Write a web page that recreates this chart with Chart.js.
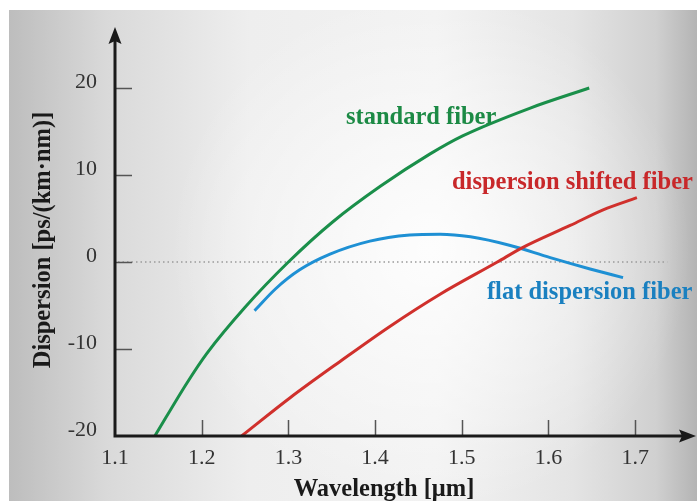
<!DOCTYPE html>
<html>
<head>
<meta charset="utf-8">
<script src="https://cdn.jsdelivr.net/npm/chart.js@4.4.1/dist/chart.umd.min.js"></script>
<style>
  body { margin: 0; background: #fff; }
  #wrap { width: 697px; height: 501px; position: relative; }
</style>
</head>
<body>
<div id="wrap"><canvas id="chart"></canvas></div>
<script>
// values
const xTicks = [1.1, 1.2, 1.3, 1.4, 1.5, 1.6, 1.7];
const yTicks = [-20, -10, 0, 10, 20];

const standardX = [1.146, 1.183, 1.206, 1.250, 1.300, 1.351, 1.406, 1.463, 1.501, 1.579, 1.647];
const standardY = [-20, -13.9, -10.5, -5.2, 0, 4.6, 8.7, 12.4, 14.5, 17.7, 20.0];

const shiftedX = [1.246, 1.302, 1.360, 1.417, 1.475, 1.541, 1.569, 1.625, 1.663, 1.702];
const shiftedY = [-20, -15.6, -11.4, -7.4, -3.7, 0, 1.6, 4.2, 6.0, 7.4];

const flatX = [1.261, 1.285, 1.313, 1.348, 1.394, 1.440, 1.475, 1.510, 1.556, 1.602, 1.648, 1.686];
const flatY = [-5.6, -3.1, -0.9, 0.9, 2.4, 3.1, 3.2, 2.9, 1.9, 0.5, -0.8, -1.8];

const GREEN = '#1a8f4a';
const RED = '#d0302c';
const BLUE = '#1e90d4';

const serif = '"Liberation Serif", "Times New Roman", serif';

// curve labels, anchored in data units (left edge, baseline)
const curveLabels = [
  { text: 'standard fiber', x: 1.3664, y: 15.9, color: '#1c8a45' },
  { text: 'dispersion shifted fiber', x: 1.4887, y: 8.4, color: '#c8282a' },
  { text: 'flat dispersion fiber', x: 1.529, y: -4.3, color: '#1a80c0' }
];

const toPoints = (xs, ys) => xs.map((x, i) => ({ x: x, y: ys[i] }));

const backdrop = {
  id: 'backdrop',
  beforeDraw(chart) {
    const ctx = chart.ctx;
    const w = chart.width, h = chart.height;
    ctx.save();
    ctx.fillStyle = '#fff';
    ctx.fillRect(0, 0, w, h);
    const lg = ctx.createLinearGradient(9, 0, w, 0);
    lg.addColorStop(0, '#bdbdbd');
    lg.addColorStop(0.14, '#d9d9d9');
    lg.addColorStop(0.35, '#eeeeee');
    lg.addColorStop(0.62, '#f2f2f2');
    lg.addColorStop(0.82, '#e4e4e4');
    lg.addColorStop(0.94, '#d0d0d0');
    lg.addColorStop(1, '#b4b4b4');
    ctx.fillStyle = lg;
    ctx.fillRect(9, 10, w - 9, h - 10);
    const rg = ctx.createRadialGradient(430, 250, 0, 430, 250, 260);
    rg.addColorStop(0, 'rgba(255,255,255,0.85)');
    rg.addColorStop(0.6, 'rgba(255,255,255,0.35)');
    rg.addColorStop(1, 'rgba(255,255,255,0)');
    ctx.fillStyle = rg;
    ctx.fillRect(9, 10, w - 9, h - 10);
    ctx.restore();
  },
  beforeDatasetsDraw(chart) {
    const ctx = chart.ctx;
    const xs = chart.scales.x, ys = chart.scales.y;
    const x0 = xs.getPixelForValue(xTicks[0]);
    const y0 = ys.getPixelForValue(yTicks[0]);
    ctx.save();
    // dotted zero line
    ctx.strokeStyle = '#9a9a9a';
    ctx.lineWidth = 1.5;
    ctx.setLineDash([1.5, 3]);
    ctx.beginPath();
    ctx.moveTo(x0 + 3, ys.getPixelForValue(0));
    ctx.lineTo(xs.getPixelForValue(1.737), ys.getPixelForValue(0));
    ctx.stroke();
    ctx.setLineDash([]);
    // tick marks pointing inwards
    ctx.strokeStyle = '#555';
    ctx.lineWidth = 1.5;
    ctx.beginPath();
    yTicks.slice(1).forEach(v => {
      const p = Math.round(ys.getPixelForValue(v)) + 0.5;
      ctx.moveTo(x0, p);
      ctx.lineTo(x0 + 17, p);
    });
    xTicks.slice(1).forEach(v => {
      const p = Math.round(xs.getPixelForValue(v)) + 0.5;
      ctx.moveTo(p, y0);
      ctx.lineTo(p, y0 - 16);
    });
    ctx.stroke();
    ctx.restore();
  },
  afterDraw(chart) {
    const ctx = chart.ctx;
    const xs = chart.scales.x, ys = chart.scales.y;
    const x0 = xs.getPixelForValue(xTicks[0]);
    const y0 = ys.getPixelForValue(yTicks[0]);
    const top = chart.chartArea.top, right = chart.chartArea.right;
    ctx.save();
    // axes with arrows
    ctx.strokeStyle = '#1a1a1a';
    ctx.fillStyle = '#1a1a1a';
    ctx.lineWidth = 3;
    ctx.beginPath();
    ctx.moveTo(x0, top + 12);
    ctx.lineTo(x0, y0);
    ctx.lineTo(right - 12, y0);
    ctx.stroke();
    ctx.beginPath();
    ctx.moveTo(x0, top - 1);
    ctx.lineTo(x0 - 6.5, top + 16);
    ctx.lineTo(x0, top + 13);
    ctx.lineTo(x0 + 6.5, top + 16);
    ctx.closePath();
    ctx.fill();
    ctx.beginPath();
    ctx.moveTo(right + 1, y0);
    ctx.lineTo(right - 16, y0 - 6.5);
    ctx.lineTo(right - 13, y0);
    ctx.lineTo(right - 16, y0 + 6.5);
    ctx.closePath();
    ctx.fill();

    // curve labels
    ctx.font = 'bold 24.5px ' + serif;
    ctx.textAlign = 'left';
    ctx.textBaseline = 'alphabetic';
    curveLabels.forEach(l => {
      ctx.fillStyle = l.color;
      ctx.fillText(l.text, xs.getPixelForValue(l.x), ys.getPixelForValue(l.y));
    });

    // axis titles
    ctx.fillStyle = '#1a1a1a';
    ctx.font = 'bold 24.5px ' + serif;
    ctx.textAlign = 'center';
    ctx.fillText('Wavelength [\u03bcm]', 384, 496);
    ctx.translate(50, 240);
    ctx.rotate(-Math.PI / 2);
    ctx.fillText('Dispersion [ps/(km\u00b7nm)]', 0, 0);
    ctx.restore();
  }
};

const lineDefaults = {
  fill: false,
  borderWidth: 3,
  pointRadius: 0,
  cubicInterpolationMode: 'monotone'
};

new Chart(document.getElementById('chart'), {
  type: 'line',
  data: {
    datasets: [
      Object.assign({ label: 'standard fiber', data: toPoints(standardX, standardY), borderColor: GREEN }, lineDefaults),
      Object.assign({ label: 'dispersion shifted fiber', data: toPoints(shiftedX, shiftedY), borderColor: RED }, lineDefaults),
      Object.assign({ label: 'flat dispersion fiber', data: toPoints(flatX, flatY), borderColor: BLUE }, lineDefaults)
    ]
  },
  options: {
    responsive: true,
    maintainAspectRatio: false,
    animation: false,
    layout: { padding: { left: 0, top: 28, right: 2, bottom: 0 } },
    plugins: {
      legend: { display: false },
      tooltip: { enabled: false }
    },
    scales: {
      x: {
        type: 'linear',
        min: 1.1,
        max: 1.769,
        grid: { display: false, drawTicks: false },
        border: { display: false },
        afterBuildTicks: s => { s.ticks = xTicks.map(v => ({ value: v })); },
        afterFit: s => {
          s.height = 65;
          s.paddingLeft = 0;
          s.paddingRight = 0;
        },
        ticks: {
          padding: 9,
          color: '#333',
          font: { family: serif, size: 22 },
          callback: v => v.toFixed(1)
        }
      },
      y: {
        type: 'linear',
        min: -20,
        max: 26.9,
        grid: { display: false, drawTicks: false },
        border: { display: false },
        afterBuildTicks: s => { s.ticks = yTicks.map(v => ({ value: v })); },
        afterFit: s => {
          s.width = 115;
          s.paddingTop = 0;
          s.paddingBottom = 0;
        },
        ticks: {
          padding: 18,
          labelOffset: -6,
          color: '#333',
          font: { family: serif, size: 22 }
        }
      }
    }
  },
  plugins: [backdrop]
});
</script>
</body>
</html>
